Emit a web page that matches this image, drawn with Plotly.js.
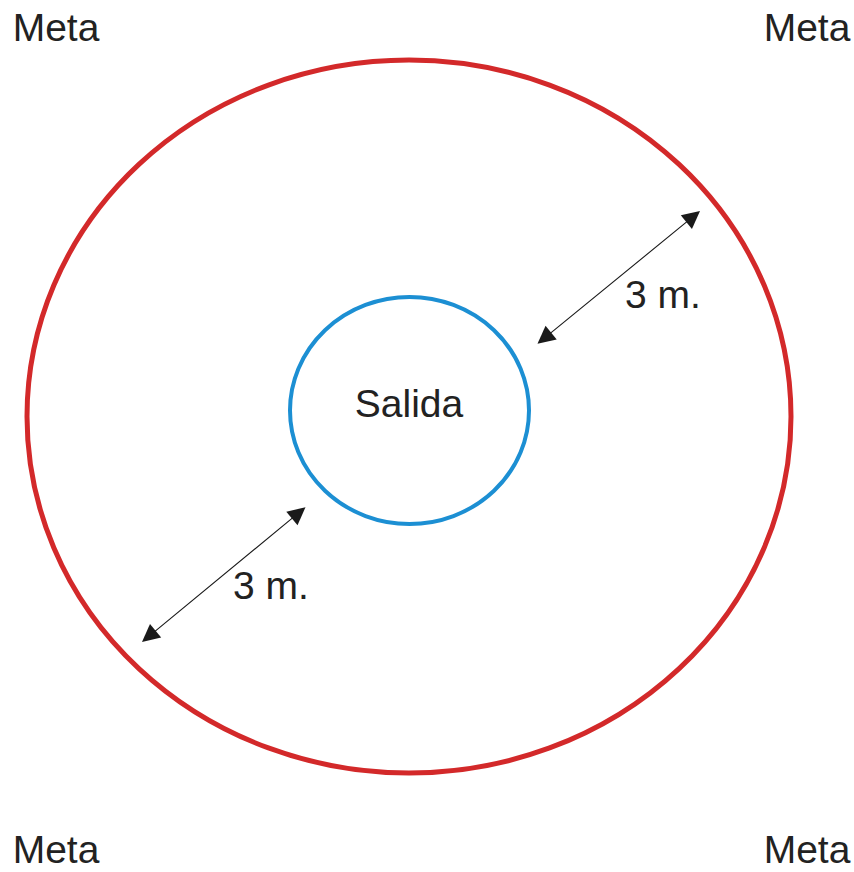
<!DOCTYPE html>
<html>
<head>
<meta charset="utf-8">
<script src="https://cdn.plot.ly/plotly-3.0.1.min.js"></script>
<style>html,body{margin:0;padding:0;background:#fff;}#chart{width:854px;height:872px;}</style>
</head>
<body>
<div id="chart"></div>
<script>
// Diagram values (drawing units, y grows downward)
const ringNames = ['Meta', 'Salida'];
const ringCx = [409, 409.5];
const ringCy = [416.5, 410.5];
const ringRx = [382, 119.5];
const ringRy = [356.5, 113.5];

// Distance arrows: start (near inner circle) -> end (near outer circle)
const arrowX0 = [536, 307];
const arrowY0 = [345, 506];
const arrowX1 = [700, 142];
const arrowY1 = [211, 642];

// Labels
const labelText = ['Meta', 'Meta', 'Meta', 'Meta', '3 m.', '3 m.', 'Salida'];
const labelX = [56, 807, 56, 807, 663, 271, 409];
const labelY = [31, 31, 853, 853, 298, 589, 407];

const ringColors = ['#d3292a', '#1c8fd3'];
const ringWidths = [5, 4];

const shapes = ringNames.map((n, i) => ({
  type: 'circle', xref: 'x', yref: 'y',
  x0: ringCx[i] - ringRx[i], x1: ringCx[i] + ringRx[i],
  y0: ringCy[i] - ringRy[i], y1: ringCy[i] + ringRy[i],
  line: {color: ringColors[i], width: ringWidths[i]},
  fillcolor: 'rgba(0,0,0,0)'
}));

const annotations = arrowX0.map((x0, i) => ({
  x: arrowX1[i], y: arrowY1[i], ax: x0, ay: arrowY0[i],
  xref: 'x', yref: 'y', axref: 'x', ayref: 'y',
  showarrow: true, text: '',
  arrowside: 'end+start',
  arrowhead: 2, startarrowhead: 2,
  arrowsize: 3.2, startarrowsize: 3.2,
  arrowwidth: 1.1, arrowcolor: '#1a1a1a',
  standoff: 0, startstandoff: 0
}));

const textTrace = {
  type: 'scatter', mode: 'text',
  x: labelX, y: labelY, text: labelText,
  textposition: 'middle center',
  textfont: {family: 'Liberation Sans, Arial, sans-serif', size: 39, color: '#222222'},
  hoverinfo: 'skip', showlegend: false
};

const layout = {
  width: 854, height: 872,
  margin: {l: 0, r: 0, t: 0, b: 0, pad: 0},
  paper_bgcolor: '#ffffff', plot_bgcolor: '#ffffff',
  xaxis: {range: [0, 854], visible: false, fixedrange: true},
  yaxis: {range: [872, 0], visible: false, fixedrange: true},
  shapes: shapes,
  annotations: annotations,
  showlegend: false
};

Plotly.newPlot('chart', [textTrace], layout, {displayModeBar: false, staticPlot: true});
</script>
</body>
</html>
